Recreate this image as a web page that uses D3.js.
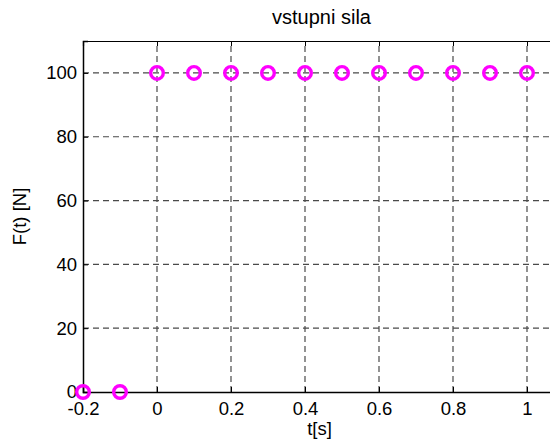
<!DOCTYPE html>
<html>
<head>
<meta charset="utf-8">
<script src="https://cdn.jsdelivr.net/npm/d3@7"></script>
<style>
  html, body { margin: 0; padding: 0; background: #fff; }
  svg { display: block; }
  text { font-family: "Liberation Sans", Arial, Helvetica, sans-serif; fill: #000; }
</style>
</head>
<body>
<svg id="chart" width="550" height="439"></svg>
<script>
// Sampled input force (step of 100 N at t = 0)
const timeValues  = [-0.2, -0.1, 0, 0.1, 0.2, 0.3, 0.4, 0.5, 0.6, 0.7, 0.8, 0.9, 1.0];
const forceValues = [0, 0, 100, 100, 100, 100, 100, 100, 100, 100, 100, 100, 100];
const xTicks = [-0.2, 0, 0.2, 0.4, 0.6, 0.8, 1];
const xTickLabels = ["-0.2", "0", "0.2", "0.4", "0.6", "0.8", "1"];
const yTicks = [0, 20, 40, 60, 80, 100];
const titleText = "vstupni sila";
const xLabel = "t[s]";
const yLabel = "F(t) [N]";

const svg = d3.select("#chart");
const margin = { left: 83, top: 41, right: 564, bottom: 392 };

const x = d3.scaleLinear().domain([-0.2, 1.1]).range([margin.left, margin.right]);
const y = d3.scaleLinear().domain([0, 110]).range([margin.bottom, margin.top]);

const fontSize = 18.5;
const gridColor = "#4a4a4a";

// dashed grid
const grid = svg.append("g");
grid.selectAll("line.gx").data(xTicks.filter(d => d > -0.2)).enter().append("line")
  .attr("x1", d => x(d)).attr("x2", d => x(d))
  .attr("y1", y(0)).attr("y2", y(110))
  .attr("stroke", gridColor).attr("stroke-width", 1.2).attr("stroke-dasharray", "6,4");
grid.selectAll("line.gy").data(yTicks.filter(d => d > 0)).enter().append("line")
  .attr("y1", d => y(d)).attr("y2", d => y(d))
  .attr("x1", x(-0.2)).attr("x2", x(1.1))
  .attr("stroke", gridColor).attr("stroke-width", 1.2).attr("stroke-dasharray", "6,4");

// axes with inward ticks
const xAxis = d3.axisBottom(x).tickValues(xTicks).tickSize(-5).tickPadding(12)
  .tickFormat((d, i) => xTickLabels[i]);
const yAxis = d3.axisLeft(y).tickValues(yTicks).tickSize(-5).tickPadding(6);

const gx = svg.append("g").attr("transform", `translate(0,${y(0)})`).call(xAxis);
const gy = svg.append("g").attr("transform", `translate(${x(-0.2)},0)`).call(yAxis);
[gx, gy].forEach(g => {
  g.select(".domain").attr("stroke", "#000").attr("stroke-width", 1.5);
  g.selectAll(".tick line").attr("stroke", "#000").attr("stroke-width", 1);
  g.selectAll(".tick text").attr("font-size", fontSize)
    .attr("font-family", "'Liberation Sans', Arial, sans-serif").attr("fill", "#000");
});
gx.selectAll(".tick text").attr("dy", "0.6em");
gy.selectAll(".tick text").attr("dy", "0.32em");

// top and right box edges with inward ticks
const gTop = svg.append("g").attr("transform", `translate(0,${y(110)})`)
  .call(d3.axisTop(x).tickValues(xTicks).tickSize(-5).tickFormat(""));
const gRight = svg.append("g").attr("transform", `translate(${x(1.1)},0)`)
  .call(d3.axisRight(y).tickValues(yTicks).tickSize(-5).tickFormat(""));
[gTop, gRight].forEach(g => {
  g.select(".domain").attr("stroke", "#000").attr("stroke-width", 1.2);
  g.selectAll(".tick line").attr("stroke", "#000");
});

// data markers
svg.append("g").selectAll("circle").data(timeValues.map((t, i) => [t, forceValues[i]]))
  .enter().append("circle")
  .attr("cx", d => x(d[0])).attr("cy", d => y(d[1]))
  .attr("r", 6.3)
  .attr("fill", "none").attr("stroke", "#ff00ff").attr("stroke-width", 3.4);

// labels
svg.append("text").attr("x", (margin.left + margin.right) / 2 - 2).attr("y", 24)
  .attr("text-anchor", "middle").attr("font-size", 20).text(titleText);
svg.append("text").attr("x", (margin.left + margin.right) / 2 - 4).attr("y", 435)
  .attr("text-anchor", "middle").attr("font-size", fontSize).text(xLabel);
svg.append("text")
  .attr("transform", `translate(26,${(margin.top + margin.bottom) / 2}) rotate(-90)`)
  .attr("text-anchor", "middle").attr("font-size", fontSize).text(yLabel);
</script>
</body>
</html>
